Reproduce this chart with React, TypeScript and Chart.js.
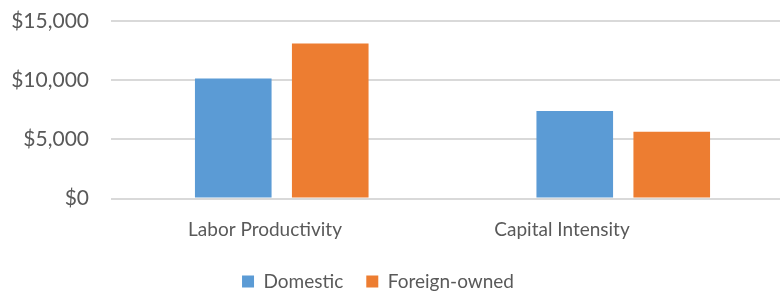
import React, { useEffect, useRef } from "react";
import { Chart, registerables } from "chart.js";

Chart.register(...registerables);

const categories = ["Labor Productivity", "Capital Intensity"];
const domestic = [10150, 7400];
const foreignOwned = [13100, 5650];
const seriesNames = ["Domestic", "Foreign-owned"];
const yTicks = [0, 5000, 10000, 15000];

const FONT = "Lato, 'Open Sans', sans-serif";
const TEXT = "#595959";

export default function App() {
  const ref = useRef<HTMLCanvasElement | null>(null);

  useEffect(() => {
    if (!ref.current) return;
    const shiftLegend = {
      id: "shiftLegend",
      afterLayout(chart: any) {
        if (chart.legend) {
          chart.legend.left -= 19;
          chart.legend.right -= 19;
        }
      },
    };
    const chart = new Chart(ref.current, {
      type: "bar",
      data: {
        labels: categories,
        datasets: [
          { label: seriesNames[0], data: domestic, backgroundColor: "#5B9BD5", borderWidth: 0 },
          { label: seriesNames[1], data: foreignOwned, backgroundColor: "#ED7D31", borderWidth: 0 },
        ],
      },
      plugins: [shiftLegend],
      options: {
        responsive: false,
        animation: false,
        devicePixelRatio: 1,
        layout: { padding: { top: 21, right: 6, left: 0, bottom: 0 } },
        datasets: { bar: { categoryPercentage: 0.568, barPercentage: 0.79 } },
        scales: {
          x: { display: false },
          xl: {
            type: "linear",
            position: "bottom",
            offset: false,
            min: -0.5185,
            max: 1.7811,
            grid: { display: false, offset: false, drawTicks: false },
            border: { display: false },
            afterBuildTicks: (scale: any) => {
              scale.ticks = categories.map((_, i) => ({ value: i }));
            },
            afterFit: (scale: any) => {
              scale.height = 50.5;
            },
            ticks: {
              padding: 20,
              maxRotation: 0,
              autoSkip: false,
              color: TEXT,
              font: { family: FONT, size: 19 },
              callback: (v: any) => categories[v as number] ?? "",
            },
          },
          y: {
            min: 0,
            max: 15000,
            afterBuildTicks: (scale: any) => {
              scale.ticks = yTicks.map((v) => ({ value: v }));
            },
            afterFit: (scale: any) => {
              scale.width = 111;
            },
            grid: {
              color: "#d9d9d9",
              lineWidth: 2,
              drawTicks: true,
              tickLength: 22,
              tickColor: "rgba(0,0,0,0)",
            },
            border: { display: false },
            ticks: {
              padding: 0,
              color: TEXT,
              font: { family: FONT, size: 21 },
              callback: (v: any) => "$" + Number(v).toLocaleString("en-US"),
            },
          },
        },
        plugins: {
          legend: {
            position: "bottom",
            labels: {
              boxWidth: 12,
              boxHeight: 12,
              padding: 23,
              color: TEXT,
              font: { family: FONT, size: 19 },
            },
          },
          tooltip: { enabled: false },
        },
      },
    });
    return () => chart.destroy();
  }, []);

  return (
    <div
      style={{
        position: "fixed",
        left: 0,
        top: 0,
        width: 780,
        height: 295,
        overflow: "hidden",
        background: "#fff",
      }}
    >
      <canvas ref={ref} width={800} height={301} />
    </div>
  );
}
